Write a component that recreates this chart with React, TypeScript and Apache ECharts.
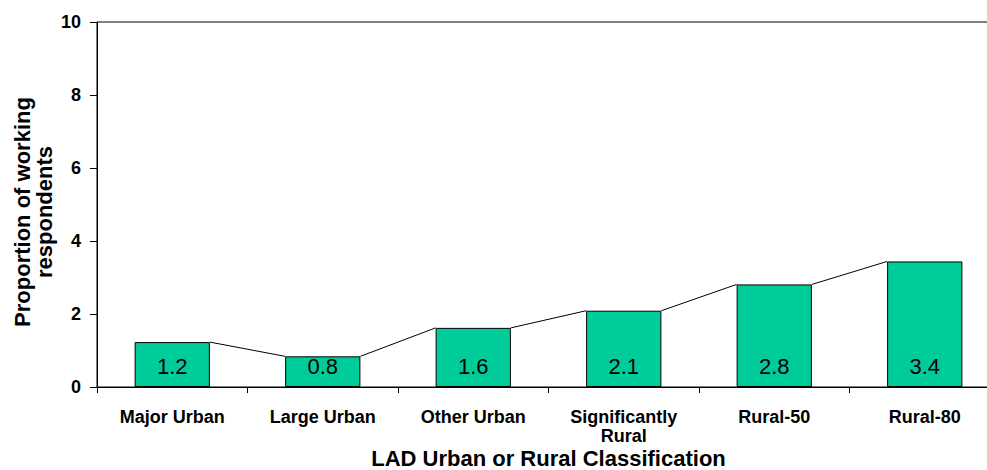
import React, { useEffect, useRef } from "react";
import * as echarts from "echarts";

const categories = ["Major Urban", "Large Urban", "Other Urban", "Significantly\nRural", "Rural-50", "Rural-80"];
const values = [1.23, 0.84, 1.62, 2.09, 2.81, 3.44];
const yTicks = { min: 0, max: 10, interval: 2 };
const xTitle = "LAD Urban or Rural Classification";
const yTitle = "Proportion of working\nrespondents";

const FONT = "'Liberation Sans', Arial, sans-serif";

export default function App() {
  const ref = useRef<HTMLDivElement>(null);
  useEffect(() => {
    if (!ref.current) return;
    const chart = echarts.init(ref.current, null, { renderer: "svg" });
    const connectors = values.slice(0, -1).map((v, i) => [i, v, values[i + 1]]);
    chart.setOption({
      animation: false,
      grid: {
        left: 97,
        top: 22,
        width: 903,
        height: 365,
        outerBoundsMode: "none",
        containLabel: false,
        show: true,
        borderColor: "#000",
        borderWidth: 1,
        backgroundColor: "transparent",
      },
      xAxis: {
        type: "category",
        data: categories,
        boundaryGap: true,
        axisLine: { lineStyle: { color: "#000", width: 1 } },
        axisTick: { show: true, length: 6, alignWithLabel: false, lineStyle: { color: "#000" } },
        axisLabel: {
          interval: 0,
          margin: 20,
          color: "#000",
          fontFamily: FONT,
          fontWeight: "bold",
          fontSize: 18,
          lineHeight: 19,
        },
        name: xTitle,
        nameLocation: "middle",
        nameGap: 71,
        nameMoveOverlap: false,
        nameTextStyle: {
          color: "#000",
          fontFamily: FONT,
          fontWeight: "bold",
          fontSize: 22,
          lineHeight: 20,
          verticalAlign: "middle",
        },
      },
      yAxis: {
        type: "value",
        min: yTicks.min,
        max: yTicks.max,
        interval: yTicks.interval,
        axisLine: { show: true, lineStyle: { color: "#000", width: 1 } },
        axisTick: { show: true, length: 7, lineStyle: { color: "#000" } },
        splitLine: { show: false },
        axisLabel: {
          margin: 16,
          color: "#000",
          fontFamily: FONT,
          fontWeight: "bold",
          fontSize: 18,
        },
      },
      graphic: [
        {
          type: "text",
          x: 33,
          y: 212,
          rotation: Math.PI / 2,
          style: {
            text: yTitle,
            fill: "#000",
            font: `bold 22px ${FONT}`,
            lineHeight: 22,
            align: "center",
            verticalAlign: "middle",
          },
        },
      ],
      series: [
        {
          type: "bar",
          data: values,
          barWidth: "50%",
          itemStyle: { color: "#00CC99", borderColor: "#000", borderWidth: 1 },
          label: {
            show: true,
            position: "insideBottom",
            distance: 10,
            color: "#000",
            fontFamily: FONT,
            fontSize: 22,
            formatter: (p: any) => Number(p.value).toFixed(1),
          },
        },
        {
          type: "custom",
          data: connectors,
          encode: { x: 0, y: 1 },
          z: 3,
          renderItem: (params: any, api: any) => {
            const i = api.value(0);
            const p0 = api.coord([i, api.value(1)]);
            const p1 = api.coord([i + 1, api.value(2)]);
            const half = api.size([1, 0])[0] * 0.25;
            return {
              type: "line",
              shape: { x1: p0[0] + half, y1: p0[1], x2: p1[0] - half, y2: p1[1] },
              style: { stroke: "#000", lineWidth: 1 },
            };
          },
        },
      ],
    });
    return () => chart.dispose();
  }, []);
  return (
    <div
      ref={ref}
      style={{ position: "fixed", left: 0, top: 0, width: 987, height: 470, background: "#fff" }}
    />
  );
}
